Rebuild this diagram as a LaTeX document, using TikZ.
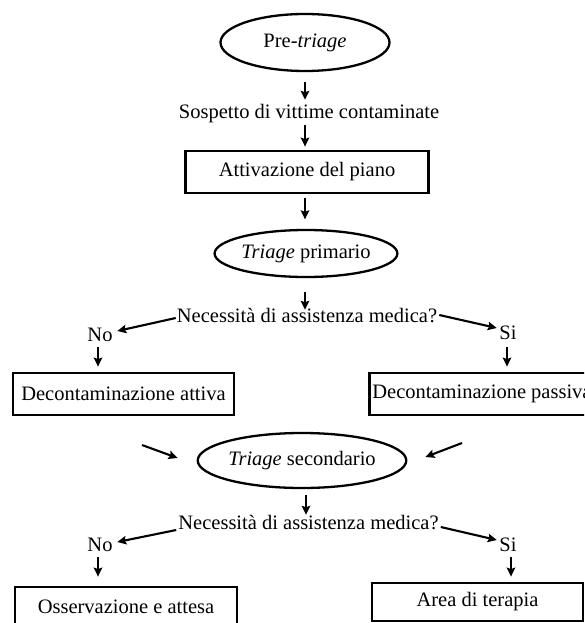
\documentclass[tikz,border=0pt]{standalone}
\usepackage{fontspec}
\setmainfont{Liberation Serif}
\usetikzlibrary{shapes.geometric,arrows.meta,calc}
\begin{document}
\begin{tikzpicture}[x=1pt,y=-1pt,
  every node/.style={font=\fontsize{20.5}{24}\selectfont},
  lbl/.style={inner sep=0pt,text height=13.5pt,text depth=4.5pt},
  ovalnode/.style={ellipse,draw,line width=2.3pt,inner sep=0pt},
  boxnode/.style={rectangle,draw,line width=2.8pt,inner sep=0pt},
  arr/.style={line width=2.1pt,-{Stealth[length=9pt,width=8.5pt,inset=1.5pt]}}]
\useasboundingbox (0,0) rectangle (584,623);
\clip (0,0) rectangle (584,623);
% nodes
\node[ovalnode,minimum width=169pt,minimum height=57pt] (pre) at (305,42.5) {Pre-\textit{triage}};
\node[lbl] (sosp) at (309,114) {Sospetto di vittime contaminate};
\node[boxnode,minimum width=243pt,minimum height=42pt] (attiv) at (307,172) {Attivazione del piano};
\node[ovalnode,minimum width=166pt,minimum height=47pt] (tprim) at (306,253.5) {\textit{Triage} primario};
\node[lbl] (nec1) at (307,318) {Necessità di assistenza medica?};
\node[lbl] (no1) at (100,337) {No};
\node[lbl] (si1) at (508,335) {Si};
\node[boxnode,minimum width=221pt,minimum height=42pt] (datt) at (123.5,394) {Decontaminazione attiva};
\node[boxnode,minimum height=42pt,inner xsep=3pt,anchor=west] (dpas) at (368,394) {Decontaminazione passiva};
\node[ovalnode,minimum width=170pt,minimum height=55pt] (tsec) at (302,460.5) {\textit{Triage} secondario};
\node[lbl] (nec2) at (308.5,525) {Necessità di assistenza medica?};
\node[lbl] (no2) at (100,547) {No};
\node[lbl] (si2) at (508,547) {Si};
\node[boxnode,minimum width=222pt,minimum height=40pt] (oss) at (126,607) {Osservazione e attesa};
\node[boxnode,minimum width=211pt,minimum height=38pt] (area) at (477.5,602) {Area di terapia};
\coordinate (lf) at (142,445);
\coordinate (rf) at (462,443);
% connectors
\draw[arr] ($(pre.south)+(0,9.5)$) -- ($(pre.south |- sosp.north)+(0,-5)$);
\draw[arr] ($(pre.south |- sosp.south)+(0,2)$) -- ($(pre.south |- attiv.north)+(0,-3)$);
\draw[arr] ($(pre.south |- attiv.south)+(0,4)$) -- ($(pre.south |- tprim.north)+(0,-9.5)$);
\draw[arr] ($(pre.south |- tprim.south)+(0,13.5)$) -- ($(pre.south |- nec1.north)+(0,1)$);
\draw[arr] ($(nec1.west)+(-1,0)$) -- ($(no1.east)+(4.6,-6)$);
\draw[arr] ($(nec1.east)+(2,-3)$) -- ($(si1.west)+(-2.5,-7)$);
\draw[arr] ($(no1.south)+(-2,1)$) -- ($(no1.south |- datt.north)+(-2,-5)$);
\draw[arr] ($(si1.south)+(-1,3)$) -- ($(si1.south |- dpas.north)+(-1,-5)$);
\draw[arr] (lf) -- ($(tsec.west)+(-19,-2.5)$);
\draw[arr] (rf) -- ($(tsec.east)+(18,-3.5)$);
\draw[arr] ($(tsec.south)+(4,5.5)$) -- ($(tsec.south |- nec2.north)+(4,-1)$);
\draw[arr] ($(nec2.west)+(-2,5)$) -- ($(no2.east)+(4.6,-5)$);
\draw[arr] ($(nec2.east)+(2,2)$) -- ($(si2.west)+(-2.5,-7)$);
\draw[arr] ($(no2.south)+(-2,1)$) -- ($(no2.south |- oss.north)+(-2,-9)$);
\draw[arr] ($(si2.south)+(3,1)$) -- ($(si2.south |- area.north)+(3,-5)$);
\end{tikzpicture}
\end{document}
